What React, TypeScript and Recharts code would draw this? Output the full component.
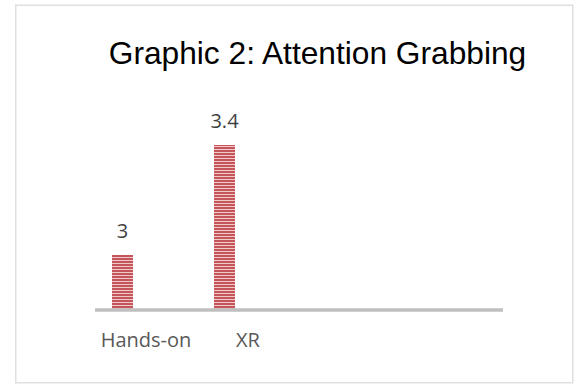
import React from "react";
import { BarChart, Bar, XAxis, YAxis, LabelList } from "recharts";

const categories = ["Hands-on", "XR", " ", "  "];
const seriesA = [3, 3.4, null, null];
const seriesB = [null, null, null, null];
const seriesC = [null, null, null, null];
const yDomain = [2.8, 3.6];
const title = "Graphic 2: Attention Grabbing";

const data = categories.map((c, i) => ({
  name: c,
  a: seriesA[i],
  b: seriesB[i],
  c: seriesC[i],
}));

export default function App() {
  return (
    <div style={{ position: "relative", width: 577, height: 384, background: "#fff" }}>
      <style>{`body{margin:0;}`}</style>
      <svg
        width={577}
        height={384}
        style={{ position: "absolute", left: 0, top: 0 }}
      >
        <rect x={15.75} y={5.25} width={557} height={377.5} fill="#fff" stroke="#e0e0e0" strokeWidth={1.5} />
        <text
          x={317.5}
          y={63.5}
          textAnchor="middle"
          fontFamily="'Liberation Sans', Arial, sans-serif"
          fontSize={31.7}
          fill="#000"
        >
          {title}
        </text>
      </svg>
      <div style={{ position: "absolute", left: 0, top: 0 }}>
        <BarChart
          width={577}
          height={384}
          data={data}
          margin={{ top: 90, right: 74, bottom: 44, left: 95 }}
          barGap={3}
        >
          <defs>
            <pattern id="stripes" patternUnits="userSpaceOnUse" width={6} height={3}>
              <rect x={0} y={0} width={6} height={3} fill="#f2c9c9" />
              <rect x={0} y={0} width={6} height={2} fill="#c4555a" />
            </pattern>
          </defs>
          <XAxis
            dataKey="name"
            height={30}
            tickLine={false}
            tickSize={0}
            tickMargin={23}
            axisLine={{ stroke: "#bfbfbf", strokeWidth: 3.5 }}
            tick={{ fill: "#595959", fontSize: 20, fontFamily: "'Open Sans', sans-serif" }}
            interval={0}
          />
          <YAxis hide domain={yDomain} />
          <Bar dataKey="a" barSize={21} fill="url(#stripes)" isAnimationActive={false}>
            <LabelList
              dataKey="a"
              position="top"
              offset={17}
              fill="#404040"
              fontSize={20}
              fontFamily="'Open Sans', sans-serif"
            />
          </Bar>
          <Bar dataKey="b" barSize={21} fill="url(#stripes)" isAnimationActive={false} />
          <Bar dataKey="c" barSize={21} fill="url(#stripes)" isAnimationActive={false} />
        </BarChart>
      </div>
    </div>
  );
}
